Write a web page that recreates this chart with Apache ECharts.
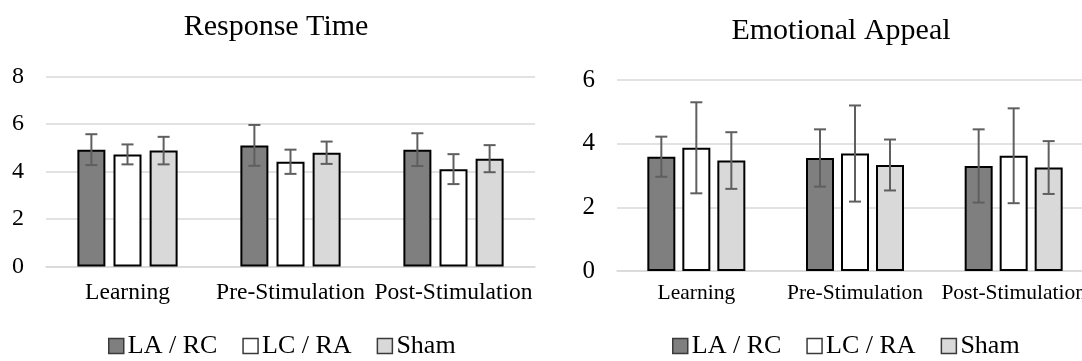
<!DOCTYPE html>
<html>
<head>
<meta charset="utf-8">
<script src="https://cdn.jsdelivr.net/npm/echarts@6/dist/echarts.min.js"></script>
<style>
html,body{margin:0;padding:0;background:#fff;}
#c{width:1082px;height:361px;}
</style>
</head>
<body>
<div id="c"></div>
<script>
// ---- data ----
const categories = ['Learning', 'Pre-Stimulation', 'Post-Stimulation'];
const seriesNames = ['LA / RC', 'LC / RA', 'Sham'];
const titles = ['Response Time', 'Emotional Appeal'];

const rtLARC = [4.92, 5.10, 4.92];
const rtLCRA = [4.72, 4.41, 4.10];
const rtSham = [4.88, 4.79, 4.54];
const rtErrLARC = [0.65, 0.86, 0.69];
const rtErrLCRA = [0.42, 0.51, 0.63];
const rtErrSham = [0.58, 0.47, 0.57];

const eaLARC = [3.59, 3.55, 3.30];
const eaLCRA = [3.87, 3.69, 3.62];
const eaSham = [3.47, 3.33, 3.25];
const eaErrLARC = [0.63, 0.90, 1.15];
const eaErrLCRA = [1.43, 1.51, 1.49];
const eaErrSham = [0.89, 0.80, 0.83];

const rtTicks = [0, 8, 2];   // min, max, interval
const eaTicks = [0, 6, 2];

// ---- style ----
const FONT = 'Liberation Serif';
const fills = ['#7f7f7f', '#ffffff', '#d9d9d9'];
const BAR_W = 28;
const gaps = [0.29, 0.25];

const chart = echarts.init(document.getElementById('c'), null, {renderer: 'canvas'});

const grids = [
  {left: 46, top: 76.5, width: 489, height: 190, outerBoundsMode: 'none', containLabel: false},
  {left: 617, top: 80, width: 476, height: 191, outerBoundsMode: 'none', containLabel: false}
];

function errSeries(gi, si, vals, errs) {
  const spacing = BAR_W * (1 + gaps[gi]);
  const off = (si - 1) * spacing;
  return {
    type: 'custom',
    xAxisIndex: gi, yAxisIndex: gi,
    z: 10,
    silent: true,
    data: vals.map((v, i) => [i, v, errs[i]]),
    renderItem: function (params, api) {
      const x = api.value(0), y = api.value(1), e = api.value(2);
      const hi = api.coord([x, y + e]);
      const lo = api.coord([x, y - e]);
      const cx = hi[0] + off;
      const st = {stroke: '#5f5f5f', lineWidth: 2};
      return {
        type: 'group',
        children: [
          {type: 'line', shape: {x1: cx, y1: hi[1], x2: cx, y2: lo[1]}, style: st},
          {type: 'line', shape: {x1: cx - 6, y1: hi[1], x2: cx + 6, y2: hi[1]}, style: st},
          {type: 'line', shape: {x1: cx - 6, y1: lo[1], x2: cx + 6, y2: lo[1]}, style: st}
        ]
      };
    }
  };
}

function barSeries(gi, si, vals) {
  return {
    type: 'bar',
    name: seriesNames[si],
    xAxisIndex: gi, yAxisIndex: gi,
    barWidth: BAR_W,
    barGap: (gaps[gi] * 100) + '%',
    data: vals,
    itemStyle: {color: fills[si], borderColor: '#000', borderWidth: 2},
    emphasis: {disabled: true},
    z: 2
  };
}

function xAxis(gi, fs, margin) {
  return {
    type: 'category', gridIndex: gi, data: categories,
    axisLine: {show: true, lineStyle: {color: '#d9d9d9', width: 1.5}},
    axisTick: {show: false},
    axisLabel: {fontFamily: FONT, fontSize: fs, color: '#000', margin: margin, interval: 0, hideOverlap: false}
  };
}
function yAxis(gi, t, fs) {
  return {
    type: 'value', gridIndex: gi, min: t[0], max: t[1], interval: t[2],
    axisLine: {show: false}, axisTick: {show: false},
    splitLine: {lineStyle: {color: '#d9d9d9', width: 1.5}},
    axisLabel: {fontFamily: FONT, fontSize: fs, color: '#000', margin: 22}
  };
}

function legend(left) {
  return {
    data: seriesNames,
    left: left, top: 333, padding: 0,
    itemWidth: 15, itemHeight: 15, itemGap: 25,
    icon: 'rect',
    selectedMode: false,
    itemStyle: {borderColor: '#3a3a3a', borderWidth: 1.5},
    textStyle: {fontFamily: FONT, fontSize: 26, color: '#000', padding: [0, 0, 0, -1]}
  };
}

const option = {
  animation: false,
  backgroundColor: '#fff',
  title: [
    {text: titles[0], left: 276, top: 12, textAlign: 'center', padding: 0,
     textStyle: {fontFamily: FONT, fontSize: 30, fontWeight: 'normal', color: '#000'}},
    {text: titles[1], left: 841, top: 16, textAlign: 'center', padding: 0,
     textStyle: {fontFamily: FONT, fontSize: 30, fontWeight: 'normal', color: '#000'}}
  ],
  legend: [legend(108), legend(672)],
  grid: grids,
  xAxis: [xAxis(0, 23.5, 14), xAxis(1, 21.5, 11)],
  yAxis: [yAxis(0, rtTicks, 24), yAxis(1, eaTicks, 25)],
  series: [
    barSeries(0, 0, rtLARC), barSeries(0, 1, rtLCRA), barSeries(0, 2, rtSham),
    barSeries(1, 0, eaLARC), barSeries(1, 1, eaLCRA), barSeries(1, 2, eaSham),
    errSeries(0, 0, rtLARC, rtErrLARC), errSeries(0, 1, rtLCRA, rtErrLCRA), errSeries(0, 2, rtSham, rtErrSham),
    errSeries(1, 0, eaLARC, eaErrLARC), errSeries(1, 1, eaLCRA, eaErrLCRA), errSeries(1, 2, eaSham, eaErrSham)
  ]
};
chart.setOption(option);
</script>
</body>
</html>
